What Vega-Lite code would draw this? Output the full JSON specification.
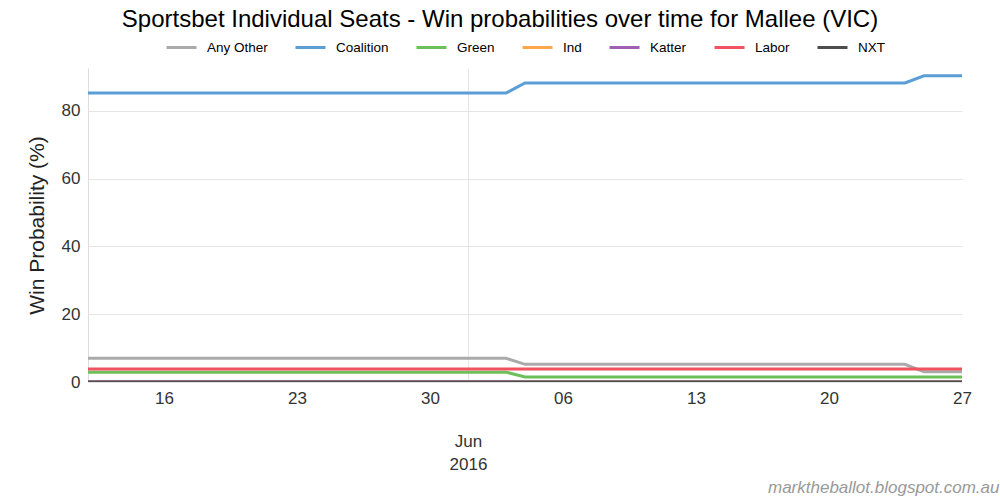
{
  "$schema": "https://vega.github.io/schema/vega-lite/v6.json",
  "width": 874,
  "height": 314,
  "autosize": {"type": "none"},
  "padding": {"left": 88, "top": 68, "right": 38, "bottom": 118},
  "background": "white",
  "title": {
    "text": "Sportsbet Individual Seats - Win probabilities over time for Mallee (VIC)",
    "font": "Liberation Sans",
    "fontSize": 24,
    "fontWeight": "normal",
    "color": "#000000",
    "anchor": "middle",
    "dx": -25,
    "offset": -1
  },
  "data": {
    "values": [
      {"date": "2016-05-12", "party": "Any Other", "prob": 7.0},
      {"date": "2016-06-03", "party": "Any Other", "prob": 7.0},
      {"date": "2016-06-04", "party": "Any Other", "prob": 5.2},
      {"date": "2016-06-24", "party": "Any Other", "prob": 5.2},
      {"date": "2016-06-25", "party": "Any Other", "prob": 3.0},
      {"date": "2016-06-27", "party": "Any Other", "prob": 3.0},
      {"date": "2016-05-12", "party": "Coalition", "prob": 85.2},
      {"date": "2016-06-03", "party": "Coalition", "prob": 85.2},
      {"date": "2016-06-04", "party": "Coalition", "prob": 88.2},
      {"date": "2016-06-24", "party": "Coalition", "prob": 88.2},
      {"date": "2016-06-25", "party": "Coalition", "prob": 90.3},
      {"date": "2016-06-27", "party": "Coalition", "prob": 90.3},
      {"date": "2016-05-12", "party": "Green", "prob": 2.9},
      {"date": "2016-06-03", "party": "Green", "prob": 2.9},
      {"date": "2016-06-04", "party": "Green", "prob": 1.5},
      {"date": "2016-06-24", "party": "Green", "prob": 1.5},
      {"date": "2016-06-25", "party": "Green", "prob": 1.5},
      {"date": "2016-06-27", "party": "Green", "prob": 1.5},
      {"date": "2016-05-12", "party": "Ind", "prob": 0},
      {"date": "2016-06-27", "party": "Ind", "prob": 0},
      {"date": "2016-05-12", "party": "Katter", "prob": 0},
      {"date": "2016-06-27", "party": "Katter", "prob": 0},
      {"date": "2016-05-12", "party": "Labor", "prob": 3.8},
      {"date": "2016-06-03", "party": "Labor", "prob": 3.8},
      {"date": "2016-06-04", "party": "Labor", "prob": 3.8},
      {"date": "2016-06-24", "party": "Labor", "prob": 3.8},
      {"date": "2016-06-25", "party": "Labor", "prob": 3.8},
      {"date": "2016-06-27", "party": "Labor", "prob": 3.8},
      {"date": "2016-05-12", "party": "NXT", "prob": 0},
      {"date": "2016-06-27", "party": "NXT", "prob": 0}
    ]
  },
  "mark": {"type": "line", "strokeWidth": 3, "clip": true},
  "encoding": {
    "x": {
      "field": "date",
      "type": "temporal",
      "scale": {"type": "utc", "domain": [{"year": 2016, "month": "May", "date": 12, "utc": true}, {"year": 2016, "month": "Jun", "date": 27, "utc": true}]},
      "axis": {
        "values": [
          {"year": 2016, "month": "May", "date": 16, "utc": true},
          {"year": 2016, "month": "May", "date": 23, "utc": true},
          {"year": 2016, "month": "May", "date": 30, "utc": true},
          {"year": 2016, "month": "Jun", "date": 1, "utc": true},
          {"year": 2016, "month": "Jun", "date": 6, "utc": true},
          {"year": 2016, "month": "Jun", "date": 13, "utc": true},
          {"year": 2016, "month": "Jun", "date": 20, "utc": true},
          {"year": 2016, "month": "Jun", "date": 27, "utc": true}
        ],
        "labelExpr": "utcdate(datum.value) == 1 ? ['Jun', '2016'] : utcFormat(datum.value, '%d')",
        "labelFont": "Liberation Sans",
        "labelFontSize": 17,
        "labelColor": "#333333",
        "labelLineHeight": 23,
        "labelPadding": {"condition": {"test": "utcdate(datum.value) == 1", "value": 51}, "value": 8},
        "labelOverlap": false,
        "labelFlush": false,
        "ticks": false,
        "domain": false,
        "grid": true,
        "gridColor": "#e5e5e5",
        "gridWidth": 1,
        "gridOpacity": {"condition": {"test": "utcdate(datum.value) == 1", "value": 1}, "value": 0},
        "title": "marktheballot.blogspot.com.au",
        "titleFont": "Liberation Sans",
        "titleFontSize": 17,
        "titleFontStyle": "italic",
        "titleFontWeight": "normal",
        "titleColor": "#999999",
        "titleAlign": "right",
        "titleBaseline": "middle",
        "titleX": 911,
        "titleY": 105
      }
    },
    "y": {
      "field": "prob",
      "type": "quantitative",
      "scale": {"domain": [0, 92.6], "nice": false, "zero": true},
      "axis": {
        "values": [0, 20, 40, 60, 80],
        "title": "Win Probability (%)",
        "titleFont": "Liberation Sans",
        "titleFontSize": 21,
        "titleFontWeight": "normal",
        "titleColor": "#222222",
        "titlePadding": 14,
        "labelFont": "Liberation Sans",
        "labelFontSize": 17,
        "labelColor": "#333333",
        "labelPadding": 8,
        "ticks": false,
        "domain": true,
        "domainColor": "#dddddd",
        "domainWidth": 1,
        "grid": true,
        "gridColor": "#e5e5e5",
        "gridWidth": 1
      }
    },
    "color": {
      "field": "party",
      "type": "nominal",
      "scale": {
        "domain": ["Any Other", "Coalition", "Green", "Ind", "Katter", "Labor", "NXT"],
        "range": ["#aaaaaa", "#5b9dd5", "#6cbf59", "#ffa64d", "#9e5fb5", "#f0525f", "#4d4d4d"]
      },
      "legend": {
        "title": null,
        "orient": "none",
        "direction": "horizontal",
        "legendX": 77,
        "legendY": -37,
        "symbolType": "stroke",
        "symbolStrokeWidth": 3,
        "symbolSize": 900,
        "labelFont": "Liberation Sans",
        "labelFontSize": 13.5,
        "labelColor": "#000000",
        "labelOffset": 9,
        "columnPadding": 21
      }
    },
    "order": {"field": "party"}
  },
  "config": {
    "view": {"stroke": null}
  }
}
